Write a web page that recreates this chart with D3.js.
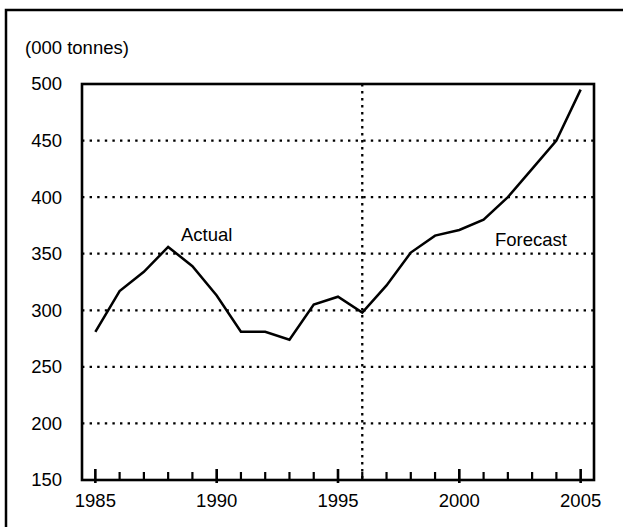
<!DOCTYPE html>
<html>
<head>
<meta charset="utf-8">
<script src="https://cdn.jsdelivr.net/npm/d3@7"></script>
<style>
html,body{margin:0;padding:0;background:#fff;}
svg{display:block;}
text{font-family:"Liberation Sans",Arial,sans-serif;fill:#000;}
</style>
</head>
<body>
<svg id="chart" width="623" height="527"></svg>
<script>
const years = [1985,1986,1987,1988,1989,1990,1991,1992,1993,1994,1995,1996,1997,1998,1999,2000,2001,2002,2003,2004,2005];
const values = [281,317,334,356,339,313,281,281,274,305,312,298,322,351,366,371,380,400,425,450,495];
const yTicks = [150,200,250,300,350,400,450,500];
const xMajor = [1985,1990,1995,2000,2005];
const splitYear = 1996;
const unitLabel = "(000 tonnes)";
const annotations = [{text:"Actual"},{text:"Forecast"}];

const svg = d3.select("#chart");
const L = 82, R = 594, T = 84, B = 480;
const FS = "18.5px";
const x = d3.scaleLinear().domain([1984.45, 2005.55]).range([L, R]);
const y = d3.scaleLinear().domain([150, 500]).range([B, T]);

// outer frame (left and top)
svg.append("path").attr("d", "M6,527 L6,10 L623,10")
  .attr("fill","none").attr("stroke","#000").attr("stroke-width",2.5);

// grid lines
svg.append("g").selectAll("line").data(yTicks.filter(v => v > 150 && v < 500)).join("line")
  .attr("x1", L).attr("x2", R).attr("y1", d => y(d)).attr("y2", d => y(d))
  .attr("stroke","#000").attr("stroke-width",2.3).attr("stroke-dasharray","2.4,5.2");

// vertical split line
svg.append("line").attr("x1", x(splitYear)).attr("x2", x(splitYear)).attr("y1", T).attr("y2", B)
  .attr("stroke","#000").attr("stroke-width",2.3).attr("stroke-dasharray","2.4,4.6");

// ticks on x axis
const allYears = d3.range(1985, 2006);
svg.append("g").selectAll("line").data(allYears).join("line")
  .attr("x1", d => x(d)).attr("x2", d => x(d))
  .attr("y1", d => xMajor.includes(d) ? 469 : 472)
  .attr("y2", d => xMajor.includes(d) ? 483 : B)
  .attr("stroke","#000").attr("stroke-width", d => xMajor.includes(d) ? 2.6 : 2.2);

// plot box
svg.append("rect").attr("x", L).attr("y", T).attr("width", R-L).attr("height", B-T)
  .attr("fill","none").attr("stroke","#000").attr("stroke-width",2.6);

// y labels
svg.append("g").selectAll("text").data(yTicks).join("text")
  .attr("x", 62).attr("y", d => y(d)).attr("dy","0.35em")
  .attr("text-anchor","end").style("font-size",FS).text(d => d);

// x labels
svg.append("g").selectAll("text").data(xMajor).join("text")
  .attr("x", d => x(d)).attr("y", 507)
  .attr("text-anchor","middle").style("font-size",FS).text(d => d);

// data line
const line = d3.line().x((d,i) => x(years[i])).y(d => y(d));
svg.append("path").datum(values).attr("d", line)
  .attr("fill","none").attr("stroke","#000").attr("stroke-width",2.5).attr("stroke-linejoin","miter");

// labels
svg.append("text").attr("x", 25).attr("y", 54).style("font-size",FS).text(unitLabel);
svg.append("text").attr("x", 181).attr("y", 241).style("font-size",FS).text(annotations[0].text);
svg.append("text").attr("x", 495).attr("y", 246).style("font-size",FS).text(annotations[1].text);
</script>
</body>
</html>
